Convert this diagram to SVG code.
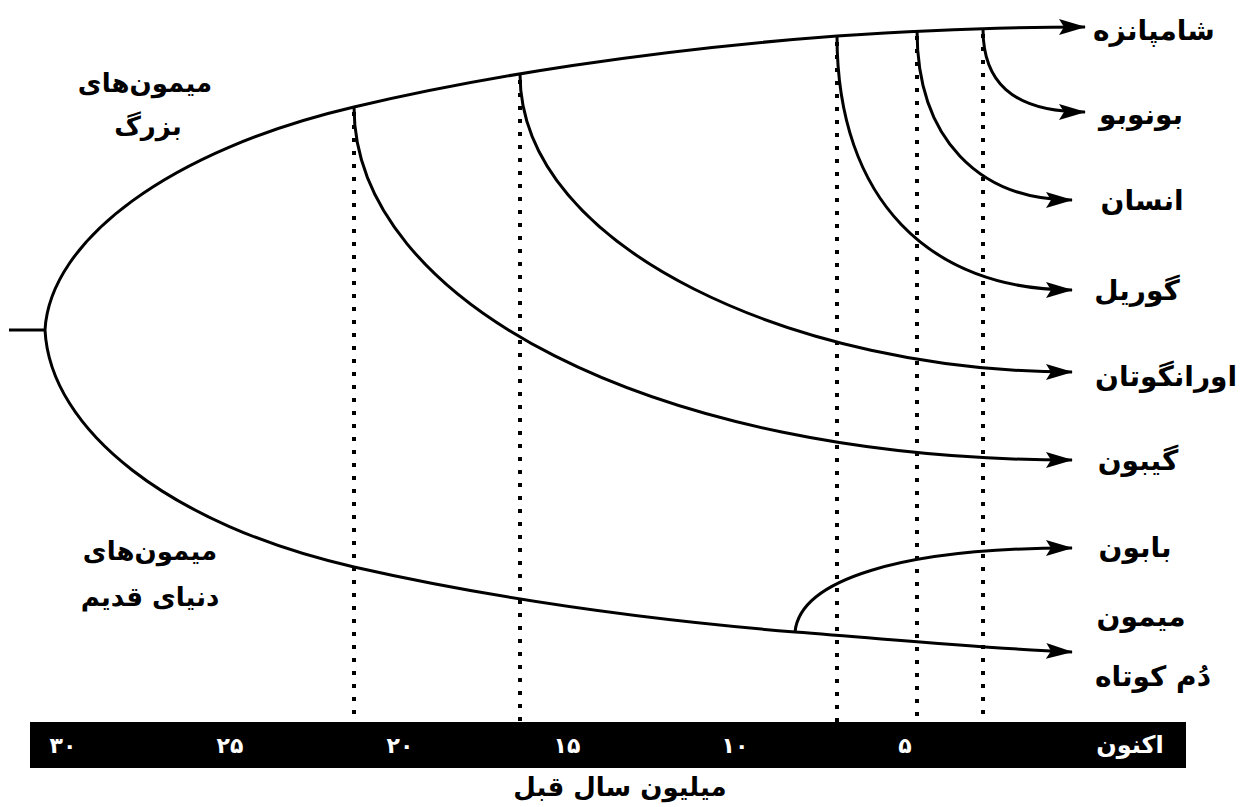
<svg xmlns="http://www.w3.org/2000/svg" width="1243" height="807" viewBox="0 0 1243 807">
<defs>
<marker id="ah" markerUnits="userSpaceOnUse" markerWidth="28" markerHeight="20" refX="26" refY="10" orient="auto">
<path d="M0,2 L27,10 L0,18 L5,10 z" fill="#000"/>
</marker>
<style>
.br{fill:none;stroke:#000;stroke-width:3;}
.dot{fill:none;stroke:#000;stroke-width:4;stroke-dasharray:4 9;}
.lb{font-family:"DejaVu Sans",sans-serif;font-weight:bold;font-size:28px;fill:#000;text-anchor:middle;}
.ll{font-family:"DejaVu Sans",sans-serif;font-weight:bold;font-size:26px;fill:#000;text-anchor:middle;}
.ax{font-family:"DejaVu Sans",sans-serif;font-weight:bold;font-size:22px;fill:#fff;text-anchor:middle;}
</style>
</defs>
<rect width="1243" height="807" fill="#fff"/>
<g id="dotted">
<line class="dot" x1="354" y1="112" x2="354" y2="722"/>
<line class="dot" x1="520" y1="80" x2="520" y2="722"/>
<line class="dot" x1="837" y1="42" x2="837" y2="722"/>
<line class="dot" x1="917" y1="36" x2="917" y2="722"/>
<line class="dot" x1="983" y1="34" x2="983" y2="722"/>
</g>
<g id="connectors">
<line class="br" x1="9" y1="330" x2="45" y2="330"/>
<path class="br" marker-end="url(#ah)" d="M45,330 C50,240 170,150 354,107 C480,77 650,50 837,36 C930,30 1000,27 1085,27"/>
<path class="br" marker-end="url(#ah)" d="M45,330 C50,430 170,525 354,567 C500,600 650,620 795,632 C900,640 980,648 1072,652"/>
<path class="br" marker-end="url(#ah)" d="M354,107 C354,300 650,460 1072,460"/>
<path class="br" marker-end="url(#ah)" d="M520,74 C520,250 800,372 1072,372"/>
<path class="br" marker-end="url(#ah)" d="M837,36 C837,200 930,290 1072,290"/>
<path class="br" marker-end="url(#ah)" d="M917,30 C917,140 980,200 1072,200"/>
<path class="br" marker-end="url(#ah)" d="M983,29 C983,80 1010,112 1085,112"/>
<path class="br" marker-end="url(#ah)" d="M795,632 C800,580 900,548 1072,548"/>
</g>
<g id="n-chimp"><text class="lb" x="1154" y="40">شامپانزه</text></g>
<g id="n-bonobo"><text class="lb" x="1141" y="124">بونوبو</text></g>
<g id="n-human"><text class="lb" x="1142" y="210">انسان</text></g>
<g id="n-gorilla"><text class="lb" x="1137" y="300">گوریل</text></g>
<g id="n-orangutan"><text class="lb" x="1166" y="386">اورانگوتان</text></g>
<g id="n-gibbon"><text class="lb" x="1138" y="470">گیبون</text></g>
<g id="n-baboon"><text class="lb" x="1135" y="557">بابون</text></g>
<g id="n-macaque"><text class="lb" x="1141" y="626">میمون</text><text class="lb" x="1153" y="686">دُم کوتاه</text></g>
<g id="n-greatapes"><text class="ll" x="145" y="92">میمون‌های</text><text class="ll" x="148" y="135">بزرگ</text></g>
<g id="n-oldworld"><text class="ll" x="150" y="560">میمون‌های</text><text class="ll" x="150" y="606">دنیای قدیم</text></g>
<g id="axis">
<rect x="30" y="722" width="1156" height="46" fill="#000"/>
<text class="ax" x="63" y="753">۳۰</text>
<text class="ax" x="230" y="753">۲۵</text>
<text class="ax" x="400" y="753">۲۰</text>
<text class="ax" x="567" y="753">۱۵</text>
<text class="ax" x="735" y="753">۱۰</text>
<text class="ax" x="905" y="753">۵</text>
<text class="ax" x="1130" y="753" style="font-size:24px">اکنون</text>
<text class="ll" x="620" y="796">میلیون سال قبل</text>
</g>
</svg>
